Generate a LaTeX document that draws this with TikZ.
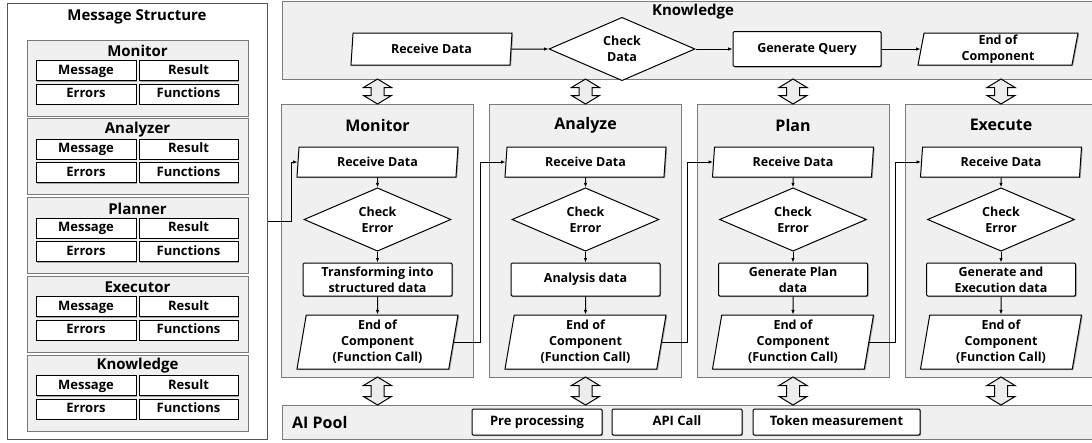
\documentclass[tikz,border=0pt]{standalone}
\usepackage{fontspec}
\setmainfont{Open Sans}
\usetikzlibrary{shapes.geometric,arrows.meta,calc,shadows}
\definecolor{pbg}{HTML}{F0F0F0}
\definecolor{pline}{HTML}{7A7A7A}
\definecolor{dline}{HTML}{555555}
\definecolor{abg}{HTML}{EDEDED}
\tikzset{
  txt/.style={font=\bfseries\fontsize{12.5}{16}\selectfont},
  celltxt/.style={font=\bfseries\fontsize{13}{15}\selectfont},
  ttl/.style={font=\bfseries\fontsize{15}{18}\selectfont, inner sep=0},
  coltitle/.style={font=\bfseries\fontsize{16}{19}\selectfont, inner sep=0},
  shd/.style={drop shadow={shadow xshift=1.2pt, shadow yshift=-1.2pt, opacity=0.3, fill=black}},
  panel/.style={draw=pline, fill=pbg, line width=0.9pt, inner sep=0},
  outer/.style={draw=dline, fill=white, line width=1pt, inner sep=0},
  cellbox/.style={draw=black, fill=white, line width=1pt, inner sep=0, minimum height=20,
    text height=9.5pt, text depth=2.5pt, celltxt, shd},
  io/.style={trapezium, trapezium left angle=78, trapezium right angle=102, trapezium stretches body,
    draw=black, fill=white, line width=1pt, inner sep=0, align=center, txt, shd},
  dec/.style={diamond, draw=black, fill=white, line width=1pt, inner sep=0, align=center, txt,
    minimum width=147, minimum height=53},
  proc/.style={rectangle, rounded corners=1.2pt, draw=black, fill=white, line width=1pt, inner sep=0,
    minimum width=149, minimum height=33, align=center, txt, shd},
  poolbox/.style={rectangle, rounded corners=1.2pt, draw=black, fill=white, line width=1pt, inner sep=0,
    minimum height=26, text height=9.5pt, text depth=2.5pt, font=\bfseries\fontsize{13}{15}\selectfont, shd},
  conn/.style={line width=1pt, -{Latex[length=4.5pt,width=3.5pt]}},
  dblstyle/.style={draw=black, fill=abg, line width=1pt, line join=miter},
  pics/dbl/.style={code={
    \path[dblstyle] (0,-#1) -- (14,{-#1+8.5}) -- (6.5,{-#1+8.5}) -- (6.5,{#1-8.5}) -- (14,{#1-8.5})
      -- (0,#1) -- (-14,{#1-8.5}) -- (-6.5,{#1-8.5}) -- (-6.5,{-#1+8.5}) -- (-14,{-#1+8.5}) -- cycle;
  }}
}
\begin{document}
\begin{tikzpicture}[x=1pt,y=-1pt]
\useasboundingbox (0,0) rectangle (1092,442);
\clip (0,0) rectangle (1092,442);

% ---------- Message Structure panel ----------
\node[outer, minimum width=260, minimum height=436] (msg) at (137,221) {};
\node[ttl] (msgt) at (137,17) {Message Structure};
\foreach \g/\t [count=\i from 0] in {gm/Monitor, ga/Analyzer, gp/Planner, ge/Executor, gk/Knowledge}{
  \pgfmathsetmacro{\top}{40+78.75*\i}
  \node[panel, minimum width=221, minimum height=76] (\g) at (137.5,\top+38) {};
  \node[ttl] (\g t) at (137.5,\top+11) {\t};
  \node[cellbox, minimum width=100] (\g m) at (86,\top+30.5) {Message};
  \node[cellbox, minimum width=99] (\g r) at (188.5,\top+30.5) {Result};
  \node[cellbox, minimum width=100] (\g e) at (86,\top+54) {Errors};
  \node[cellbox, minimum width=99] (\g f) at (188.5,\top+54) {Functions};
}

% ---------- Knowledge panel ----------
\node[panel, minimum width=818, minimum height=78] (know) at (691,40) {};
\node[ttl] (knowt) at (693,12) {Knowledge};
\node[io, minimum width=161, minimum height=32] (k1) at (431.5,49) {Receive Data};
\node[dec, minimum width=146, minimum height=50] (k2) at (622,49) {Check\\Data};
\node[proc, minimum width=148, minimum height=35] (k3) at (807,49) {Generate Query};
\node[io, minimum width=160, minimum height=32] (k4) at (998,49) {End of\\Component};
\draw[conn] (k1) -- (k2);
\draw[conn] (k2) -- (k3);
\draw[conn] (k3) -- (k4);

% ---------- AI Pool ----------
\node[panel, minimum width=818, minimum height=34] (pool) at (691,422) {};
\node[coltitle, anchor=west] (poolt) at (292,422) {AI Pool};
\node[poolbox, minimum width=130] (pre) at (537,422) {Pre processing};
\node[poolbox, minimum width=130] (api) at (677,422) {API Call};
\node[poolbox, minimum width=167] (tok) at (836.5,422) {Token measurement};

% ---------- MAPE columns ----------
\foreach \n/\x/\t/\p in {m/377.5/Monitor/{Transforming into\\structured data},
                         a/585.5/Analyze/{Analysis data},
                         p/793/Plan/{Generate Plan\\data},
                         e/1001/Execute/{Generate and\\Execution data}}{
  \node[panel, minimum width=192, minimum height=273] (\n col) at (\x,240.5) {};
  \node[coltitle] (\n t) at (\x,125) {\t};
  \node[io, minimum width=161, minimum height=30] (\n1) at (\x,162) {Receive Data};
  \node[dec] (\n2) at (\x,219.5) {Check\\Error};
  \node[proc] (\n3) at (\x,279.5) {\p};
  \node[io, minimum width=161, minimum height=54] (\n4) at (\x,342) {End of\\Component\\(Function Call)};
  \draw[conn] (\n1) -- (\n2);
  \draw[conn] (\n2) -- (\n3);
  \draw[conn] (\n3) -- (\n4);
  \pic at (\x,91.5) {dbl=12.5};
  \pic at (\x,391) {dbl=14};
}

% ---------- flow between components ----------
\draw[conn] (msg.east) -- ++(24,0) |- (m1.west);
\draw[conn] (m4.east) -| ([xshift=7pt]mcol.east) |- (a1.west);
\draw[conn] (a4.east) -| ([xshift=6pt]acol.east) |- (p1.west);
\draw[conn] (p4.east) -| ([xshift=6pt]pcol.east) |- (e1.west);
\end{tikzpicture}
\end{document}
